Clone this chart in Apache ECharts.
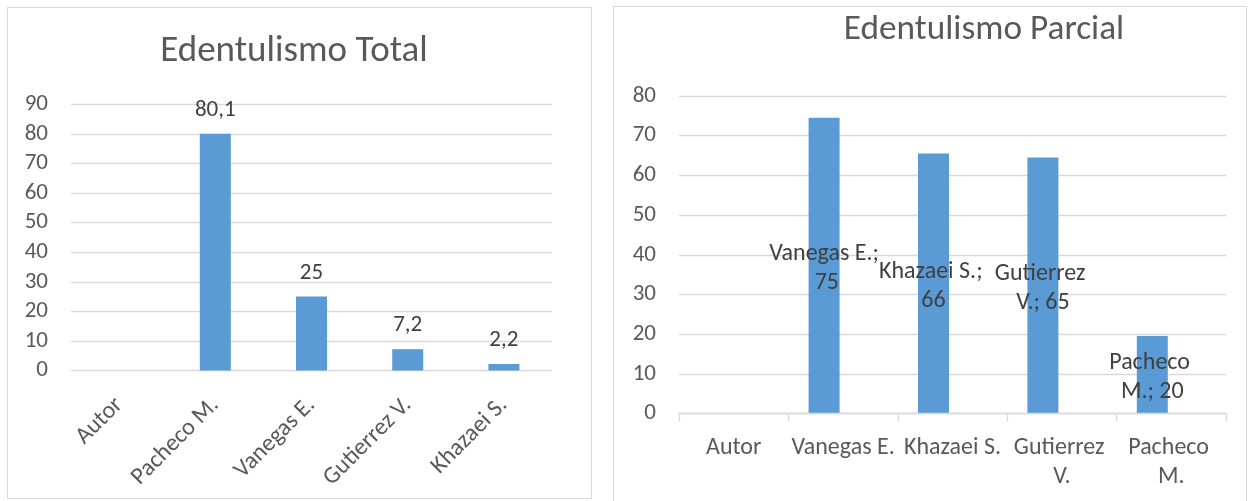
<!DOCTYPE html>
<html><head><meta charset="utf-8">
<script src="https://cdn.jsdelivr.net/npm/echarts@6/dist/echarts.min.js"></script>
<style>
html,body{margin:0;padding:0;background:#fff;}
#wrap{position:relative;width:1256px;height:501px;overflow:hidden;}
.box{position:absolute;border:1px solid #d9d9d9;box-sizing:border-box;}
#chart{position:absolute;left:0;top:0;width:1256px;height:501px;}
</style></head>
<body>
<div id="wrap">
  <div class="box" style="left:7px;top:7px;width:585px;height:492px;"></div>
  <div class="box" style="left:613px;top:6px;width:634px;height:520px;"></div>
  <div id="chart"></div>
</div>
<script>
// ---- data ----
const totalTitle = 'Edentulismo Total';
const totalCategories = ['Autor', 'Pacheco M.', 'Vanegas E.', 'Gutierrez V.', 'Khazaei S.'];
const totalValues = [null, 80.1, 25, 7.2, 2.2];
const totalTicks = {min: 0, max: 90, interval: 10};

const parcialTitle = 'Edentulismo Parcial';
const parcialCategories = ['Autor', 'Vanegas E.', 'Khazaei S.', 'Gutierrez V.', 'Pacheco M.'];
const parcialValues = [null, 74.5, 65.5, 64.5, 19.5];
const parcialEmpty = [null, null, null, null, null];
const parcialTicks = {min: 0, max: 80, interval: 10};

// ---- styles ----
const FONT = 'Carlito, Calibri, Lato, sans-serif';
const GREY = '#595959';
const DARK = '#404040';
const GRID = '#d9d9d9';
const BLUE = '#5b9bd5';

const chart = echarts.init(document.getElementById('chart'), null, {renderer: 'canvas'});
chart.setOption({
  animation: false,
  textStyle: {fontFamily: FONT},
  graphic: [
    {type: 'text', x: 294, y: 52, style: {text: totalTitle, fontFamily: FONT, fontSize: 37, fill: GREY, textAlign: 'center', textVerticalAlign: 'middle'}},
    {type: 'text', x: 984, y: 30, style: {text: parcialTitle, fontFamily: FONT, fontSize: 35.3, fill: GREY, textAlign: 'center', textVerticalAlign: 'middle'}}
  ],
  grid: [
    {left: 71, top: 104.5, width: 481, height: 266},
    {left: 679, top: 96, width: 547, height: 317.5}
  ],
  xAxis: [
    {
      type: 'category', gridIndex: 0, data: totalCategories,
      axisLine: {show: false}, axisTick: {show: false},
      axisLabel: {rotate: 45, interval: 0, fontFamily: FONT, fontSize: 24, color: GREY, margin: 31}
    },
    {
      type: 'category', gridIndex: 1, data: parcialCategories, z: 5,
      axisLine: {show: true, lineStyle: {color: GRID, width: 1.3}},
      axisTick: {show: true, length: 8, lineStyle: {color: GRID, width: 1.3}},
      axisLabel: {interval: 0, fontFamily: FONT, fontSize: 24, lineHeight: 29, color: GREY, margin: 20, width: 107, overflow: 'break'}
    }
  ],
  yAxis: [
    {
      type: 'value', gridIndex: 0, min: totalTicks.min, max: totalTicks.max, interval: totalTicks.interval,
      axisLine: {show: false}, axisTick: {show: false},
      axisLabel: {fontFamily: FONT, fontSize: 23, color: GREY, margin: 23},
      splitLine: {lineStyle: {color: GRID, width: 1.3}}
    },
    {
      type: 'value', gridIndex: 1, min: parcialTicks.min, max: parcialTicks.max, interval: parcialTicks.interval,
      axisLine: {show: false}, axisTick: {show: false},
      axisLabel: {fontFamily: FONT, fontSize: 23, color: GREY, margin: 23},
      splitLine: {lineStyle: {color: GRID, width: 1.3}}
    }
  ],
  series: [
    {
      type: 'bar', xAxisIndex: 0, yAxisIndex: 0, data: totalValues, barWidth: 31,
      itemStyle: {color: BLUE},
      label: {
        show: true, position: 'top', distance: 12, fontFamily: FONT, fontSize: 23, color: DARK,
        formatter: p => String(p.value).replace('.', ',')
      }
    },
    {
      type: 'bar', xAxisIndex: 1, yAxisIndex: 1, data: parcialValues, barWidth: 31, barGap: '22.6%',
      itemStyle: {color: BLUE},
      label: {
        show: true, position: 'inside', offset: [0, 2.5], fontFamily: FONT, fontSize: 24, lineHeight: 29, color: DARK,
        width: 113, overflow: 'break',
        formatter: p => p.name + '; ' + Math.round(p.value)
      }
    },
    {
      type: 'bar', xAxisIndex: 1, yAxisIndex: 1, data: parcialEmpty, barWidth: 31,
      itemStyle: {color: BLUE}
    }
  ]
});
</script>
</body></html>
